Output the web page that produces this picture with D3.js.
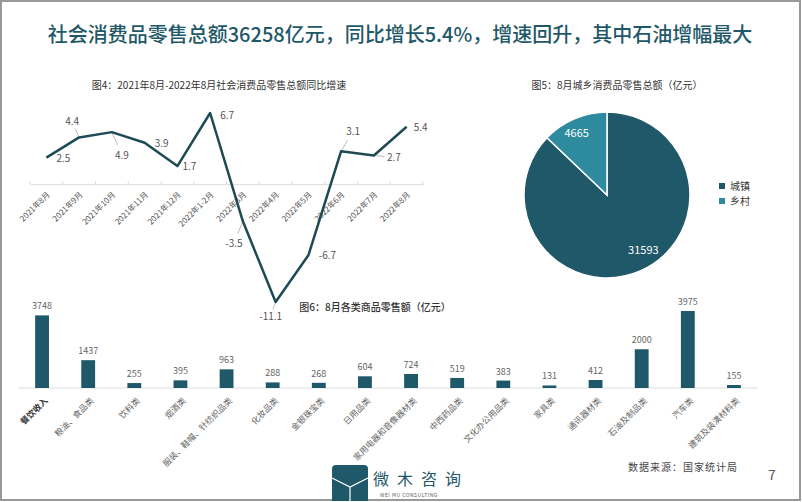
<!DOCTYPE html>
<html>
<head>
<meta charset="utf-8">
<script src="https://cdn.jsdelivr.net/npm/d3@7"></script>
<style>
  body { margin: 0; background: #fff; }
  svg { display: block; font-family: "Noto Sans CJK SC", "Noto Sans", sans-serif; }
</style>
</head>
<body>
<div id="chart"></div>
<script>
// line chart: year-on-year growth
const months = ["2021年8月", "2021年9月", "2021年10月", "2021年11月", "2021年12月", "2022年1-2月",
  "2022年3月", "2022年4月", "2022年5月", "2022年6月", "2022年7月", "2022年8月"];
const growth = [2.5, 4.4, 4.9, 3.9, 1.7, 6.7, -3.5, -11.1, -6.7, 3.1, 2.7, 5.4];

// pie: urban / rural
const areas = ["城镇", "乡村"];
const areaValues = [31593, 4665];

// bars: retail sales by category
const goods = ["餐饮收入", "粮油、食品类", "饮料类", "烟酒类", "服装、鞋帽、针纺织品类", "化妆品类",
  "金银珠宝类", "日用品类", "家用电器和音像器材类", "中西药品类", "文化办公用品类", "家具类",
  "通讯器材类", "石油及制品类", "汽车类", "建筑及装潢材料类"];
const sales = [3748, 1437, 255, 395, 963, 288, 268, 604, 724, 519, 383, 131, 412, 2000, 3975, 155];

// label placement for the line points (layout only)
const labelOffset = [[17, 1], [-7, -16], [10, 23], [17, 1], [12, 0], [17, 2],
  [-9, 22], [-5, 14], [19, 0], [12, -20], [20, 2], [14, 1]];
const leader = [false, true, true, false, false, false, true, true, false, true, true, false];

const dark = "#1f5868";
const light = "#2e8a9e";

const svg = d3.select("#chart").append("svg")
  .attr("width", 802)
  .attr("height", 502);

svg.append("rect")
  .attr("x", 1).attr("y", 1)
  .attr("width", 799).attr("height", 499)
  .attr("fill", "#fff")
  .attr("stroke", "#999")
  .attr("stroke-width", 2);

svg.append("text")
  .attr("x", 400).attr("y", 42)
  .attr("text-anchor", "middle")
  .attr("font-size", 20)
  .attr("font-weight", 500)
  .attr("fill", dark)
  .text("社会消费品零售总额36258亿元，同比增长5.4%，增速回升，其中石油增幅最大");

// ---- line chart ----
svg.append("text")
  .attr("x", 219).attr("y", 89)
  .attr("text-anchor", "middle")
  .attr("font-size", 10)
  .attr("fill", "#333")
  .text("图4：2021年8月-2022年8月社会消费品零售总额同比增速");

const x = d3.scaleBand().domain(months).range([30, 423]);
const y = d3.scaleLinear().domain([-11.1, 6.7]).range([302, 113]);
const cx = (m) => x(m) + x.bandwidth() / 2;

const xAxis = svg.append("g")
  .attr("transform", `translate(0,${y(0)})`)
  .call(d3.axisBottom(x).tickSize(0).tickFormat(""));
xAxis.select(".domain").attr("stroke", "#ddd");
xAxis.selectAll(".bound")
  .data(d3.range(months.length + 1))
  .enter()
  .append("line")
  .attr("x1", (i) => 30 + i * x.step())
  .attr("x2", (i) => 30 + i * x.step())
  .attr("y1", -3).attr("y2", 0)
  .attr("stroke", "#ddd");

svg.selectAll("text.month")
  .data(months)
  .enter()
  .append("text")
  .attr("class", "month")
  .attr("transform", (d) => `translate(${cx(d) + 2},${y(0) + 9}) rotate(-45)`)
  .attr("text-anchor", "end")
  .attr("dy", "0.35em")
  .attr("font-size", 8)
  .attr("fill", "#555")
  .text((d) => d);

const pts = months.map((m, i) => ({ m, v: growth[i], off: labelOffset[i], lead: leader[i] }));

svg.selectAll("line.leader")
  .data(pts.filter((d) => d.lead))
  .enter()
  .append("line")
  .attr("x1", (d) => cx(d.m))
  .attr("y1", (d) => y(d.v))
  .attr("x2", (d) => cx(d.m) + d.off[0] * 0.55)
  .attr("y2", (d) => y(d.v) + d.off[1] * 0.55)
  .attr("stroke", "#aaa")
  .attr("stroke-width", 0.8);

svg.append("path")
  .datum(pts)
  .attr("fill", "none")
  .attr("stroke", "#1d4a54")
  .attr("stroke-width", 2.5)
  .attr("stroke-linejoin", "round")
  .attr("d", d3.line().x((d) => cx(d.m)).y((d) => y(d.v)));

svg.selectAll("text.val")
  .data(pts)
  .enter()
  .append("text")
  .attr("class", "val")
  .attr("x", (d) => cx(d.m) + d.off[0])
  .attr("y", (d) => y(d.v) + d.off[1])
  .attr("dy", "0.35em")
  .attr("text-anchor", "middle")
  .attr("font-size", 10)
  .attr("fill", "#555")
  .text((d) => d.v);

// ---- pie chart ----
svg.append("text")
  .attr("x", 617).attr("y", 89)
  .attr("text-anchor", "middle")
  .attr("font-size", 10)
  .attr("fill", "#333")
  .text("图5：8月城乡消费品零售总额（亿元）");

const pieG = svg.append("g").attr("transform", "translate(607,195)");
const pieData = d3.pie().sort(null)(areaValues);
const arc = d3.arc().innerRadius(0).outerRadius(83);
const labelArc = d3.arc().innerRadius(67).outerRadius(67);
const pieColor = d3.scaleOrdinal().domain(areas).range([dark, light]);

pieG.selectAll("path")
  .data(pieData)
  .enter()
  .append("path")
  .attr("d", arc)
  .attr("fill", (d, i) => pieColor(areas[i]))
  .attr("stroke", "#fff")
  .attr("stroke-width", 1.5);

pieG.selectAll("text")
  .data(pieData)
  .enter()
  .append("text")
  .attr("transform", (d, i) => {
    const [px, py] = labelArc.centroid(d);
    return i === 0 ? `translate(${px + 10},${py - 6})` : `translate(${px - 4},${py})`;
  })
  .attr("text-anchor", "middle")
  .attr("dy", "0.35em")
  .attr("font-size", 11)
  .attr("fill", "#fff")
  .text((d) => d.data);

const legend = svg.selectAll("g.legend")
  .data(areas)
  .enter()
  .append("g")
  .attr("transform", (d, i) => `translate(719,${186 + i * 15})`);
legend.append("rect")
  .attr("x", 0).attr("y", -3)
  .attr("width", 6).attr("height", 6)
  .attr("fill", (d) => pieColor(d));
legend.append("text")
  .attr("x", 11)
  .attr("dy", "0.35em")
  .attr("font-size", 10)
  .attr("fill", "#333")
  .text((d) => d);

// ---- bar chart ----
svg.append("text")
  .attr("x", 375).attr("y", 311)
  .attr("text-anchor", "middle")
  .attr("font-size", 10)
  .attr("font-weight", 500)
  .attr("fill", "#333")
  .text("图6：8月各类商品零售额（亿元）");

const bx = d3.scaleBand().domain(goods).range([19, 757]).paddingInner(0.7).paddingOuter(0.35);
const by = d3.scaleLinear().domain([0, 3975]).range([388, 311]);
const bars = goods.map((g, i) => ({ g, v: sales[i] }));

svg.append("line")
  .attr("x1", 19).attr("x2", 757)
  .attr("y1", by(0)).attr("y2", by(0))
  .attr("stroke", "#ddd");

svg.selectAll("rect.bar")
  .data(bars)
  .enter()
  .append("rect")
  .attr("class", "bar")
  .attr("x", (d) => bx(d.g))
  .attr("y", (d) => by(d.v))
  .attr("width", bx.bandwidth())
  .attr("height", (d) => by(0) - by(d.v))
  .attr("fill", dark);

svg.selectAll("text.bv")
  .data(bars)
  .enter()
  .append("text")
  .attr("class", "bv")
  .attr("x", (d) => bx(d.g) + bx.bandwidth() / 2)
  .attr("y", (d) => by(d.v) - 6)
  .attr("text-anchor", "middle")
  .attr("font-size", 9)
  .attr("fill", "#666")
  .text((d) => d.v);

svg.selectAll("text.good")
  .data(bars)
  .enter()
  .append("text")
  .attr("class", "good")
  .attr("transform", (d) => `translate(${bx(d.g) + bx.bandwidth() / 2 + 4},${by(0) + 11}) rotate(-45)`)
  .attr("text-anchor", "end")
  .attr("dy", "0.35em")
  .attr("font-size", 8.5)
  .attr("font-weight", (d, i) => i === 0 ? 700 : 400)
  .attr("fill", (d, i) => i === 0 ? "#333" : "#666")
  .text((d) => d.g);

// ---- footer ----
const logo = svg.append("g").attr("transform", "translate(332,465)");
logo.append("path")
  .attr("d", "M0,36 V4 Q0,0 4,0 H32 Q36,0 36,4 V36 Z")
  .attr("fill", dark);
logo.append("path")
  .attr("d", "M0,13 L18,22 L36,13 M18,22 V36")
  .attr("fill", "none")
  .attr("stroke", "#fff")
  .attr("stroke-width", 1.2);

svg.append("text")
  .attr("x", 373).attr("y", 485)
  .attr("font-size", 16)
  .attr("letter-spacing", 8)
  .attr("fill", dark)
  .text("微木咨询");
svg.append("text")
  .attr("x", 380).attr("y", 497)
  .attr("font-size", 5)
  .attr("letter-spacing", 0.5)
  .attr("fill", "#555")
  .text("WEI  MU  CONSULTING");

svg.append("text")
  .attr("x", 628).attr("y", 471)
  .attr("font-size", 10)
  .attr("fill", "#444")
  .attr("letter-spacing", 1)
  .text("数据来源：国家统计局");
svg.append("text")
  .attr("x", 768).attr("y", 480)
  .attr("font-size", 14)
  .attr("fill", "#555")
  .text("7");
</script>
</body>
</html>
